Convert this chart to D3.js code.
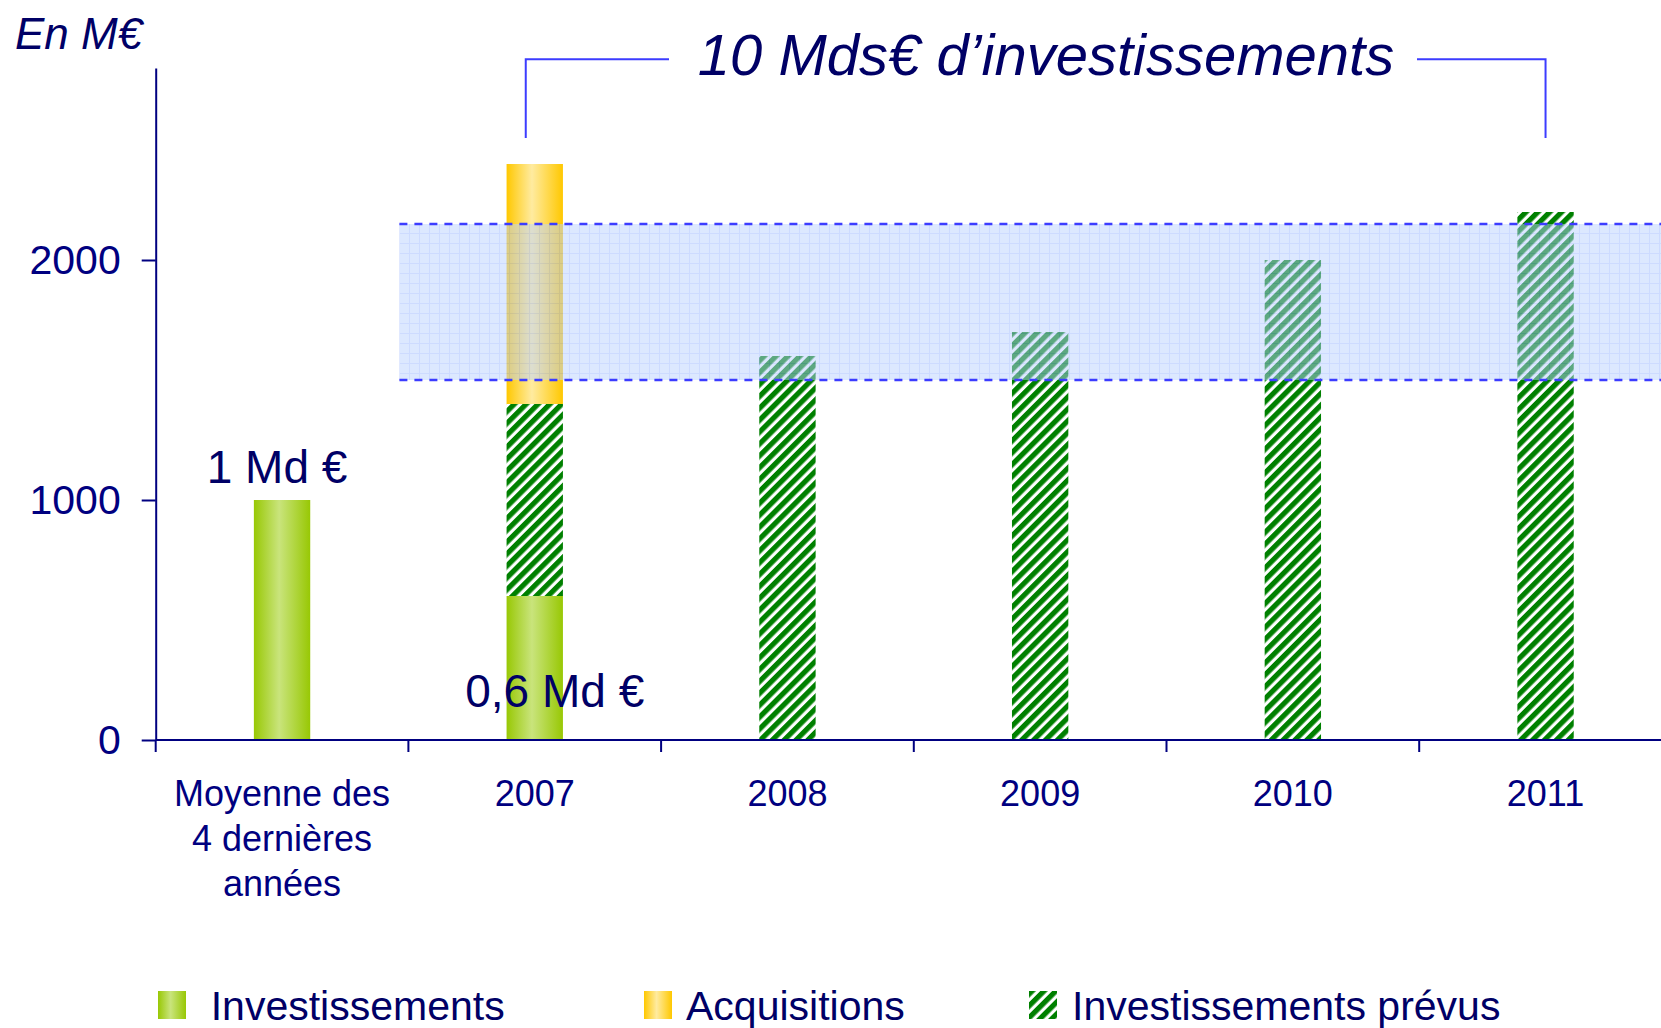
<!DOCTYPE html>
<html>
<head>
<meta charset="utf-8">
<script src="https://cdn.jsdelivr.net/npm/d3@7"></script>
<style>
  body { margin: 0; background: #fff; }
  svg text { font-family: "Liberation Sans", Arial, sans-serif; }
</style>
</head>
<body>
<div id="chart"></div>
<script>
// data (M€)
const categories = ["moy", "2007", "2008", "2009", "2010", "2011"];
const catLabels = [["Moyenne des", "4 dernières", "années"], ["2007"], ["2008"], ["2009"], ["2010"], ["2011"]];
const investissements = [1000, 600, 0, 0, 0, 0];
const prevus = [0, 800, 1600, 1700, 2000, 2200];
const acquisitions = [0, 1000, 0, 0, 0, 0];
const yTicks = [0, 1000, 2000];
const band = [1500, 2150];
const legendItems = ["Investissements", "Acquisitions", "Investissements prévus"];

const W = 1661, H = 1028;
const navy = "#000080", ink = "#000066", blue = "#3c3cff";

const svg = d3.select("#chart").append("svg")
    .attr("width", W)
    .attr("height", H);

//**** DEFS : gradients + patterns */
const defs = svg.append("defs");

function hGrad(id, edge, mid) {
    const g = defs.append("linearGradient").attr("id", id)
        .attr("x1", 0).attr("x2", 1).attr("y1", 0).attr("y2", 0);
    g.append("stop").attr("offset", "0%").attr("stop-color", edge);
    g.append("stop").attr("offset", "45%").attr("stop-color", mid);
    g.append("stop").attr("offset", "100%").attr("stop-color", edge);
}
hGrad("gGreen", "#98c804", "#c9e47c");
hGrad("gYellow", "#ffc800", "#ffeba0");

const hatch = defs.append("pattern").attr("id", "hatch")
    .attr("patternUnits", "userSpaceOnUse")
    .attr("width", 8.4).attr("height", 8.4)
    .attr("patternTransform", "rotate(45)");
hatch.append("rect").attr("width", 8.4).attr("height", 8.4).attr("fill", "#fff");
hatch.append("rect").attr("width", 5.2).attr("height", 8.4).attr("fill", "#008000");

const grid = defs.append("pattern").attr("id", "grid")
    .attr("patternUnits", "userSpaceOnUse")
    .attr("width", 10).attr("height", 10)
    .attr("x", 399).attr("y", 223);
grid.append("rect").attr("width", 10).attr("height", 10).attr("fill", "#b9d0ff");
grid.append("path").attr("d", "M0.5 0 V10 M0 0.5 H10")
    .attr("stroke", "#9ab6ff").attr("stroke-width", 1).attr("fill", "none");

//**** SCALES */
const x = d3.scaleBand().domain(categories).range([155.7, 155.7 + 6 * 252.7]).padding(0);
const y = d3.scaleLinear().domain([0, 2800]).range([740, 68]);
const bw = x.bandwidth() * 0.223;
const cx = c => x(c) + x.bandwidth() / 2;

//******** BARS (stacked : invest, prévus, acquisitions) */
const rows = categories.map((c, i) => ({ c, investissements: investissements[i], prevus: prevus[i], acquisitions: acquisitions[i] }));
const stack = d3.stack().keys(["investissements", "prevus", "acquisitions"])(rows);
const fills = { investissements: "url(#gGreen)", prevus: "url(#hatch)", acquisitions: "url(#gYellow)" };

const bars_g = svg.append("g").attr("class", "bars_g");
stack.forEach(layer => {
    bars_g.append("g")
        .selectAll("rect")
        .data(layer.filter(d => d[1] > d[0]))
        .join("rect")
        .attr("x", d => cx(d.data.c) - bw / 2)
        .attr("width", bw)
        .attr("y", d => y(d[1]))
        .attr("height", d => y(d[0]) - y(d[1]))
        .attr("fill", fills[layer.key]);
});

//******** TARGET BAND (over the bars) */
const bandX = x("2007") - 9;
svg.append("rect")
    .attr("x", bandX).attr("width", W - bandX)
    .attr("y", y(band[1])).attr("height", y(band[0]) - y(band[1]))
    .attr("fill", "url(#grid)")
    .attr("opacity", 0.5);
svg.append("g").selectAll("line")
    .data(band)
    .join("line")
    .attr("x1", bandX).attr("x2", W)
    .attr("y1", d => Math.round(y(d))).attr("y2", d => Math.round(y(d)))
    .attr("stroke", blue).attr("stroke-width", 2.5)
    .attr("stroke-dasharray", "8,7");

//******** AXES */
const yAxis = svg.append("g")
    .attr("transform", "translate(155.7,0)")
    .call(d3.axisLeft(y).tickValues(yTicks).tickFormat(d3.format("d"))
        .tickSize(14).tickPadding(21).tickSizeOuter(0));
yAxis.select(".domain").attr("stroke", navy).attr("stroke-width", 2);
yAxis.selectAll(".tick line").attr("stroke", navy).attr("stroke-width", 2);
yAxis.selectAll(".tick text").attr("fill", navy).style("font-size", "41px");

const xAxis_g = svg.append("g").attr("class", "x_axis");
xAxis_g.append("line")
    .attr("x1", x.range()[0]).attr("x2", W)
    .attr("y1", y(0)).attr("y2", y(0))
    .attr("stroke", navy).attr("stroke-width", 2);
xAxis_g.selectAll("line.tk")
    .data(categories)
    .join("line").attr("class", "tk")
    .attr("x1", d => x(d)).attr("x2", d => x(d))
    .attr("y1", y(0)).attr("y2", y(0) + 12)
    .attr("stroke", navy).attr("stroke-width", 2);
xAxis_g.selectAll("text")
    .data(categories)
    .join("text")
    .attr("x", d => cx(d))
    .attr("y", 806)
    .attr("text-anchor", "middle")
    .attr("fill", navy)
    .style("font-size", "36px")
    .each(function(d, i) {
        d3.select(this).selectAll("tspan")
            .data(catLabels[i])
            .join("tspan")
            .attr("x", cx(d))
            .attr("dy", (t, j) => j ? 45 : 0)
            .text(t => t);
    });

//******** LABELS */
svg.append("text")
    .attr("x", 15).attr("y", 49)
    .attr("fill", ink).style("font-size", "44px").style("font-style", "italic")
    .text("En M€");

svg.append("text")
    .attr("x", cx("moy") - 5).attr("y", y(investissements[0]) - 17)
    .attr("text-anchor", "middle").attr("fill", ink).style("font-size", "46px")
    .text("1 Md €");

svg.append("text")
    .attr("x", cx("2007") + 20).attr("y", y(0) - 33)
    .attr("text-anchor", "middle").attr("fill", ink).style("font-size", "46px")
    .text("0,6 Md €");

//******** BRACKET + TITLE */
const bTop = 59.3, bBot = 138;
const bL = cx("2007") - 9, bR = cx("2011");
svg.append("path")
    .attr("d", `M${bL},${bBot} V${bTop} H669 M1417,${bTop} H${bR} V${bBot}`)
    .attr("fill", "none").attr("stroke", blue).attr("stroke-width", 2);
svg.append("text")
    .attr("x", 1046).attr("y", 75)
    .attr("text-anchor", "middle").attr("fill", ink)
    .style("font-size", "58px").style("font-style", "italic")
    .text("10 Mds€ d’investissements");

//******** LEGEND */
const legX = [158, 644, 1029];
const legTextX = [210.7, 686, 1072];
const legFill = ["url(#gGreen)", "url(#gYellow)", "url(#hatch)"];
const legend_g = svg.append("g").attr("class", "legend_g");
legend_g.selectAll("rect")
    .data(legendItems)
    .join("rect")
    .attr("x", (d, i) => legX[i]).attr("y", 991)
    .attr("width", 28).attr("height", 28)
    .attr("fill", (d, i) => legFill[i]);
legend_g.selectAll("text")
    .data(legendItems)
    .join("text")
    .attr("x", (d, i) => legTextX[i]).attr("y", 1020)
    .attr("fill", ink).style("font-size", "41px")
    .text(d => d);
</script>
</body>
</html>
